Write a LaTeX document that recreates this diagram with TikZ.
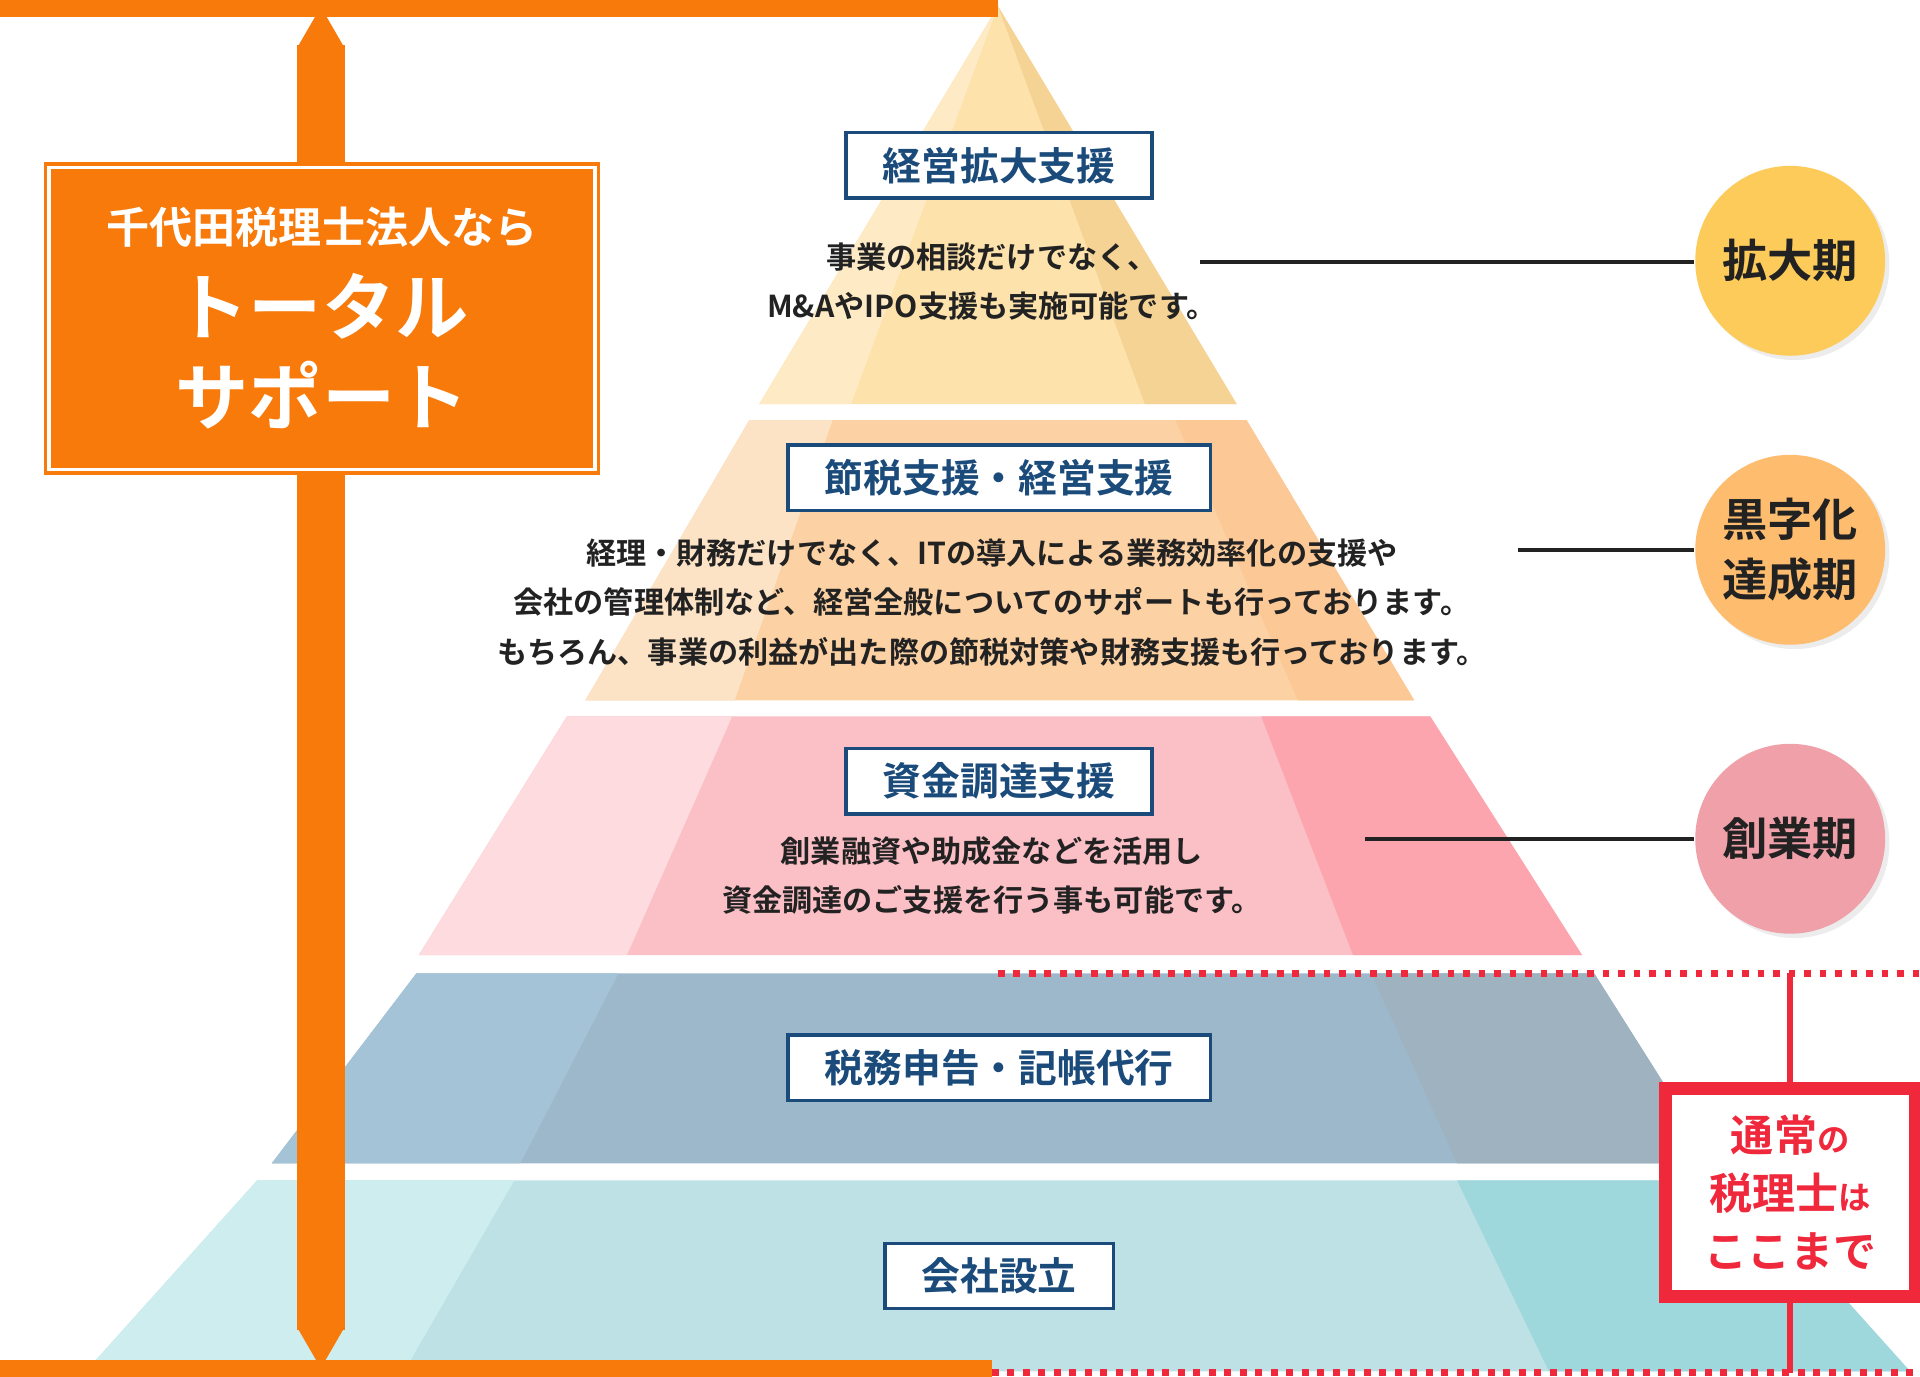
\documentclass[tikz,border=0pt]{standalone}
\usepackage{fontspec}
\setmainfont{Noto Sans CJK JP}[BoldFont={Noto Sans CJK JP Bold}]
\usetikzlibrary{arrows.meta,shadows}
\definecolor{navy}{HTML}{1B4B7A}
\definecolor{ink}{HTML}{222222}
\definecolor{supportorange}{HTML}{F77A0B}
\definecolor{alertred}{HTML}{F0283C}
\definecolor{expandL}{HTML}{FEEBC6}\definecolor{expandM}{HTML}{FDE2AC}\definecolor{expandR}{HTML}{F4D394}
\definecolor{profitL}{HTML}{FDE3C6}\definecolor{profitM}{HTML}{FCD1A4}\definecolor{profitR}{HTML}{FBC896}
\definecolor{fundL}{HTML}{FDDBDF}\definecolor{fundM}{HTML}{FBBFC6}\definecolor{fundR}{HTML}{FDA5AE}
\definecolor{taxL}{HTML}{A5C3D6}\definecolor{taxM}{HTML}{9DB8CA}\definecolor{taxR}{HTML}{9FB2C0}
\definecolor{foundL}{HTML}{CDEDEF}\definecolor{foundM}{HTML}{BDE1E4}\definecolor{foundR}{HTML}{9ED8DD}
\definecolor{phaseA}{HTML}{FDCB5A}\definecolor{phaseB}{HTML}{FDBC6E}\definecolor{phaseC}{HTML}{F0A0A8}

\tikzset{
  titlebox/.style={draw=navy,thick,fill=white,text=navy,font=\fontsize{9}{10}\selectfont\bfseries,
    minimum height=0.5cm,inner xsep=0.3cm},
  bodytext/.style={text=ink,font=\fontsize{7}{11.5}\selectfont\bfseries,align=center},
  phase/.style={circle,minimum size=1.55cm,inner sep=0,text=ink,align=center,
    font=\fontsize{10.5}{14}\selectfont\bfseries,drop shadow={opacity=0.15,shadow xshift=1pt,shadow yshift=-1pt}},
  leader/.style={ink,line width=0.9pt}
}

% band: outline, split left top/bot, split right top/bot, colours L M R
\newcommand{\pyrband}[8]{%
  \begin{scope}
    \clip #1;
    \fill[#7] (0,0) rectangle (1568,1124);
    \fill[#6] (0,0) -- #2 -- #3 -- (0,1124) -- cycle;
    \fill[#8] (1568,0) -- #4 -- #5 -- (1568,1124) -- cycle;
  \end{scope}}

\begin{document}
\begin{tikzpicture}[x=0.01cm,y=-0.01cm]
\useasboundingbox (0,0) rectangle (1568,1124);

% pyramid
\pyrband{(815,5) -- (1010,330) -- (620,330) -- cycle}{(815,5)}{(695,330)}{(815,5)}{(935,330)}{expandL}{expandM}{expandR}
\pyrband{(612,343) -- (1018,343) -- (1155,572) -- (478,572) -- cycle}{(680,343)}{(600,572)}{(960,343)}{(1060,572)}{profitL}{profitM}{profitR}
\pyrband{(463,585) -- (1168,585) -- (1292,780) -- (342,780) -- cycle}{(598,585)}{(512,780)}{(1030,585)}{(1105,780)}{fundL}{fundM}{fundR}
\pyrband{(340,795) -- (1302,795) -- (1400,950) -- (222,950) -- cycle}{(505,795)}{(425,950)}{(1120,795)}{(1190,950)}{taxL}{taxM}{taxR}
\pyrband{(210,964) -- (1420,964) -- (1560,1120) -- (70,1120) -- cycle}{(420,964)}{(330,1120)}{(1190,964)}{(1265,1120)}{foundL}{foundM}{foundR}

% titles and texts
\node[titlebox] (t1) at (816,135) {経営拡大支援};
\node[bodytext] (b1) at (810,230) {事業の相談だけでなく、\\M\&AやIPO支援も実施可能です。};
\node[titlebox] (t2) at (816,390) {節税支援・経営支援};
\node[bodytext] (b2) at (810,492) {経理・財務だけでなく、ITの導入による業務効率化の支援や\\会社の管理体制など、経営全般についてのサポートも行っております。\\もちろん、事業の利益が出た際の節税対策や財務支援も行っております。};
\node[titlebox] (t3) at (816,638) {資金調達支援};
\node[bodytext] (b3) at (810,715) {創業融資や助成金などを活用し\\資金調達のご支援を行う事も可能です。};
\node[titlebox] (t4) at (816,872) {税務申告・記帳代行};
\node[titlebox] (t5) at (816,1042) {会社設立};

% phases
\node[phase,fill=phaseA] (p1) at (1462,213) {拡大期};
\node[phase,fill=phaseB] (p2) at (1462,449) {黒字化\\達成期};
\node[phase,fill=phaseC] (p3) at (1462,685) {創業期};
\coordinate (l1) at (980,214);
\coordinate (l2) at (1240,449);
\coordinate (l3) at (1115,685);
\draw[leader] (l1) -- (p1.west |- l1);
\draw[leader] (l2) -- (p2.west |- l2);
\draw[leader] (l3) -- (p3.west |- l3);

% total support
\coordinate (topL) at (0,3);
\coordinate (topR) at (815,3);
\coordinate (botL) at (0,1121);
\coordinate (botR) at (810,1121);
\draw[supportorange,line width=6pt] (topL) -- (topR);
\draw[supportorange,line width=6pt] (botL) -- (botR);
\coordinate (arrT) at (262,5);
\coordinate (arrB) at (262,1118);
\draw[supportorange,line width=11pt,{Triangle[length=0.34cm,width=0.36cm]}-{Triangle[length=0.34cm,width=0.36cm]}] (arrT) -- (arrB);
\node[fill=supportorange,minimum width=4.54cm,minimum height=2.55cm,inner sep=0] (sup) at (263,260) {};
\draw[white,line width=0.8pt] ([shift={(5,5)}]sup.north west) rectangle ([shift={(-5,-5)}]sup.south east);
\node[text=white,align=center,font=\bfseries] at (sup) {{\fontsize{10}{12}\selectfont 千代田税理士法人なら}\\[5pt]
  {\fontsize{17}{22}\selectfont トータル}\\[4pt]{\fontsize{17}{22}\selectfont サポート}};

% usual tax accountant
\coordinate (d1) at (815,795);
\coordinate (d2) at (1568,795);
\coordinate (d3) at (810,1121);
\coordinate (d4) at (1568,1121);
\draw[alertred,line width=1.6pt,dotted] (d1) -- (d2);
\draw[alertred,line width=1.6pt,dotted] (d3) -- (d4);
\node[draw=alertred,line width=3pt,fill=white,minimum width=2.04cm,minimum height=1.70cm,text=alertred,align=center,
  font=\fontsize{10}{13.5}\selectfont\bfseries] (usual) at (1462,974)
  {通常{\fontsize{7.5}{9}\selectfont の}\\税理士{\fontsize{7.5}{9}\selectfont は}\\ここまで};
\draw[alertred,line width=1.4pt] (usual.north) -- (usual.north |- d1);
\draw[alertred,line width=1.4pt] (usual.south) -- (usual.south |- d4);
\end{tikzpicture}
\end{document}
